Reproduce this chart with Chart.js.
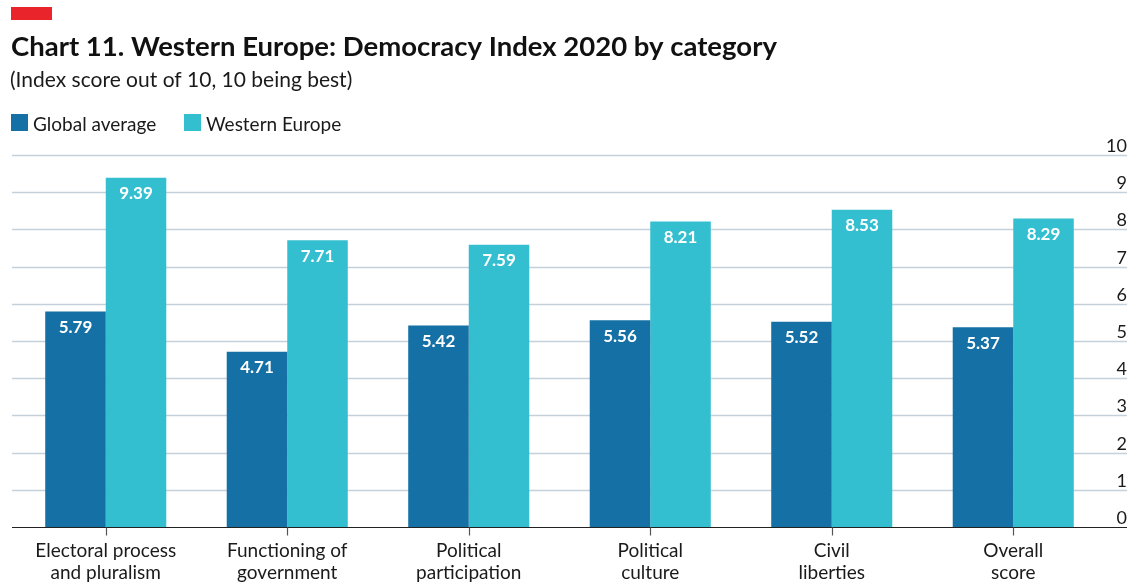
<!DOCTYPE html>
<html>
<head>
<meta charset="utf-8">
<script src="https://cdn.jsdelivr.net/npm/chart.js@4/dist/chart.umd.min.js"></script>
<style>
  html, body { margin: 0; padding: 0; background: #ffffff; }
  #chart { display: block; }
</style>
</head>
<body>
<canvas id="chart" width="1144" height="584"></canvas>
<script>
// Democracy Index 2020 scores by category
const categories = [
  ['Electoral process', 'and pluralism'],
  ['Functioning of', 'government'],
  ['Political', 'participation'],
  ['Political', 'culture'],
  ['Civil', 'liberties'],
  ['Overall', 'score']
];
const globalAverage = [5.79, 4.71, 5.42, 5.56, 5.52, 5.37];
const westernEurope = [9.39, 7.71, 7.59, 8.21, 8.53, 8.29];
const yTicks = [0, 1, 2, 3, 4, 5, 6, 7, 8, 9, 10];

const seriesNames = ['Global average', 'Western Europe'];
const seriesColors = ['#1571a5', '#34bfd0'];

const FONT = 'Lato, "Open Sans", sans-serif';
const TEXT = '#1a1a1a';
const GRID_LEFT = 12;
const GRID_RIGHT = 1127;

// Grid, axis, labels and header drawn around the bars
const framePlugin = {
  id: 'frame',
  beforeDatasetsDraw(chart) {
    const ctx = chart.ctx;
    const y = chart.scales.y;
    ctx.save();
    ctx.lineWidth = 1.5;
    ctx.strokeStyle = '#c4d1da';
    ctx.fillStyle = TEXT;
    ctx.font = '18px ' + FONT;
    ctx.textAlign = 'right';
    ctx.textBaseline = 'alphabetic';
    yTicks.forEach(v => {
      const py = Math.round(y.getPixelForValue(v)) + 0.5;
      if (v > 0) {
        ctx.beginPath();
        ctx.moveTo(GRID_LEFT, py);
        ctx.lineTo(GRID_RIGHT, py);
        ctx.stroke();
      }
      ctx.fillText(String(v), GRID_RIGHT, py - 4);
    });
    ctx.restore();
  },
  afterDatasetsDraw(chart) {
    const ctx = chart.ctx;
    const x = chart.scales.x;
    const y = chart.scales.y;
    const y0 = Math.round(y.getPixelForValue(0)) + 0.5;
    ctx.save();

    // baseline and category ticks
    ctx.strokeStyle = '#222222';
    ctx.lineWidth = 1.2;
    ctx.beginPath();
    ctx.moveTo(GRID_LEFT, y0);
    ctx.lineTo(GRID_RIGHT, y0);
    ctx.stroke();
    ctx.strokeStyle = '#555555';
    categories.forEach((c, i) => {
      const px = Math.round(x.getPixelForValue(i)) + 0.5;
      ctx.beginPath();
      ctx.moveTo(px, y0);
      ctx.lineTo(px, y0 + 8);
      ctx.stroke();
    });

    // category labels
    ctx.fillStyle = TEXT;
    ctx.font = '19px ' + FONT;
    ctx.textAlign = 'center';
    ctx.textBaseline = 'alphabetic';
    categories.forEach((lines, i) => {
      const px = x.getPixelForValue(i);
      lines.forEach((line, j) => ctx.fillText(line, px, 557 + j * 22));
    });

    // value labels inside the bars
    ctx.fillStyle = '#ffffff';
    ctx.font = 'bold 17px ' + FONT;
    ctx.textBaseline = 'middle';
    chart.data.datasets.forEach((ds, di) => {
      chart.getDatasetMeta(di).data.forEach((bar, i) => {
        ctx.fillText(ds.data[i].toFixed(2), bar.x, bar.y + 16);
      });
    });

    // header
    ctx.textAlign = 'left';
    ctx.textBaseline = 'alphabetic';
    ctx.fillStyle = '#e9242a';
    ctx.fillRect(11, 7, 41, 13);
    ctx.fillStyle = '#111111';
    ctx.font = 'bold 27.5px ' + FONT;
    ctx.fillText('Chart 11. Western Europe: Democracy Index 2020 by category', 11, 56);
    ctx.fillStyle = TEXT;
    ctx.font = '21px ' + FONT;
    ctx.fillText('(Index score out of 10, 10 being best)', 10, 87);

    // legend
    ctx.font = '19px ' + FONT;
    const legendX = [11, 184];
    seriesNames.forEach((name, i) => {
      ctx.fillStyle = seriesColors[i];
      ctx.fillRect(legendX[i], 114, 17, 17);
      ctx.fillStyle = TEXT;
      ctx.fillText(name, legendX[i] + 22, 131);
    });

    ctx.restore();
  }
};

new Chart(document.getElementById('chart'), {
  type: 'bar',
  data: {
    labels: categories,
    datasets: [
      { label: seriesNames[0], data: globalAverage, backgroundColor: seriesColors[0] },
      { label: seriesNames[1], data: westernEurope, backgroundColor: seriesColors[1] }
    ]
  },
  options: {
    responsive: false,
    devicePixelRatio: 1,
    animation: false,
    layout: { padding: { left: 15, right: 40, top: 155, bottom: 57 } },
    datasets: { bar: { barPercentage: 1, categoryPercentage: 0.667, borderWidth: 0 } },
    plugins: { legend: { display: false }, tooltip: { enabled: false } },
    scales: {
      x: { display: false },
      y: { display: false, min: 0, max: 10 }
    }
  },
  plugins: [framePlugin]
});
</script>
</body>
</html>
